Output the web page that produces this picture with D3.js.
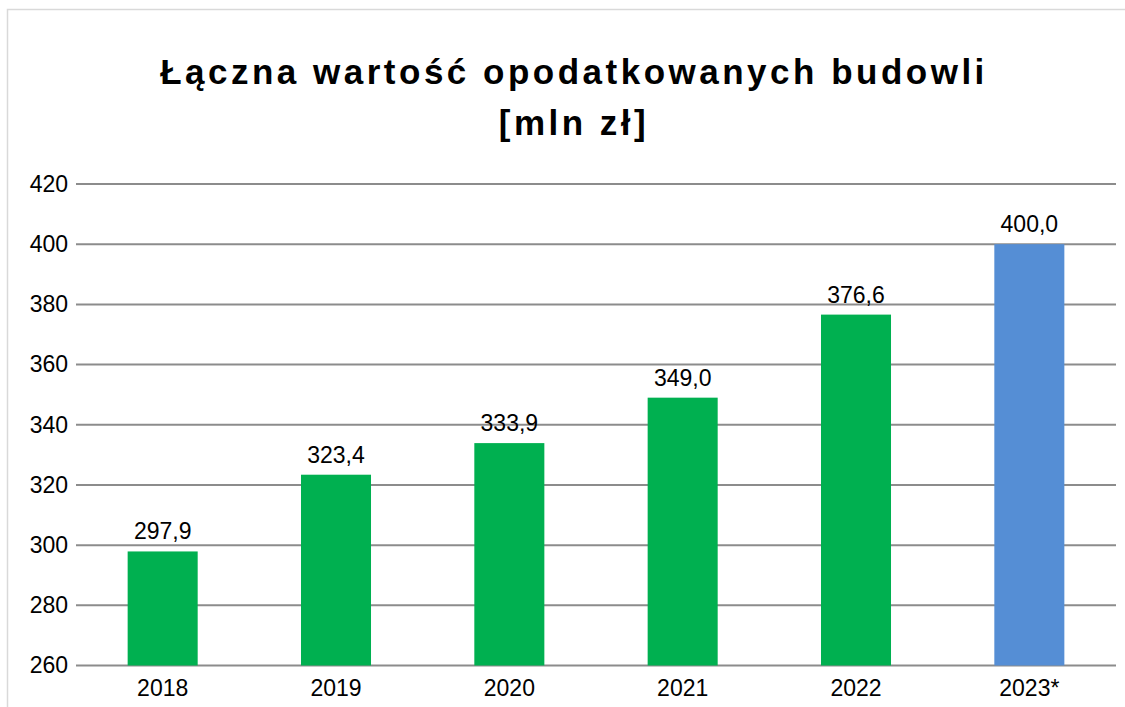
<!DOCTYPE html>
<html>
<head>
<meta charset="utf-8">
<script src="https://cdn.jsdelivr.net/npm/d3@7"></script>
<style>
  html, body { margin: 0; padding: 0; background: #fff; }
  svg { display: block; font-family: "Liberation Sans", Arial, sans-serif; }
</style>
</head>
<body>
<svg id="chart" width="1125" height="707"></svg>
<script>
const categories = ["2018", "2019", "2020", "2021", "2022", "2023*"];
const values = [297.9, 323.4, 333.9, 349.0, 376.6, 400.0];
const valueLabels = ["297,9", "323,4", "333,9", "349,0", "376,6", "400,0"];
const yTicks = [260, 280, 300, 320, 340, 360, 380, 400, 420];
const titleLines = ["Łączna wartość opodatkowanych budowli", "[mln zł]"];
const barColors = ["#00B050", "#00B050", "#00B050", "#00B050", "#00B050", "#558ED5"];

(function () {
const svg = d3.select("#chart");

svg.append("path")
  .attr("d", "M7.5,707 V9.5 H1125")
  .attr("fill", "none")
  .attr("stroke", "#d9d9d9")
  .attr("stroke-width", 1.5);

const plotLeft = 76, plotRight = 1116, plotTop = 184, plotBottom = 665.5;

const y = d3.scaleLinear().domain([260, 420]).range([plotBottom, plotTop]);
const x = d3.scaleBand().domain(categories).range([plotLeft, plotRight])
  .paddingInner(0.596).paddingOuter(0.298);

svg.append("g")
  .selectAll("line")
  .data(yTicks)
  .join("line")
  .attr("x1", plotLeft).attr("x2", plotRight)
  .attr("y1", d => y(d)).attr("y2", d => y(d))
  .attr("stroke", "#8c8c8c")
  .attr("stroke-width", 2);

const yAxis = d3.axisLeft(y).tickValues(yTicks).tickSize(0).tickPadding(7);
const gy = svg.append("g").attr("transform", `translate(${plotLeft - 1},0)`).call(yAxis);
gy.select(".domain").remove();
gy.selectAll("text")
  .attr("font-family", "'Liberation Sans', Arial, sans-serif")
  .attr("font-size", 23)
  .attr("fill", "#000");

svg.append("g")
  .selectAll("rect")
  .data(values)
  .join("rect")
  .attr("x", (d, i) => x(categories[i]))
  .attr("width", x.bandwidth())
  .attr("y", d => y(d))
  .attr("height", d => y(260) - y(d))
  .attr("fill", (d, i) => barColors[i]);

svg.append("g")
  .selectAll("text")
  .data(values)
  .join("text")
  .attr("x", (d, i) => x(categories[i]) + x.bandwidth() / 2)
  .attr("y", d => y(d) - 12)
  .attr("text-anchor", "middle")
  .attr("font-size", 23)
  .attr("fill", "#000")
  .text((d, i) => valueLabels[i]);

const xAxis = d3.axisBottom(x).tickSize(0).tickPadding(0);
const gx = svg.append("g").attr("transform", `translate(0,${plotBottom})`).call(xAxis);
gx.select(".domain").remove();
gx.selectAll("text")
  .attr("dy", null)
  .attr("y", 30)
  .attr("font-family", "'Liberation Sans', Arial, sans-serif")
  .attr("font-size", 23)
  .attr("fill", "#000");

svg.append("g")
  .selectAll("text")
  .data(titleLines)
  .join("text")
  .attr("x", 574)
  .attr("y", (d, i) => 84 + i * 51)
  .attr("text-anchor", "middle")
  .attr("font-size", 35)
  .attr("font-weight", "bold")
  .attr("letter-spacing", 3.5)
  .attr("fill", "#000")
  .text(d => d);
})();
</script>
</body>
</html>
